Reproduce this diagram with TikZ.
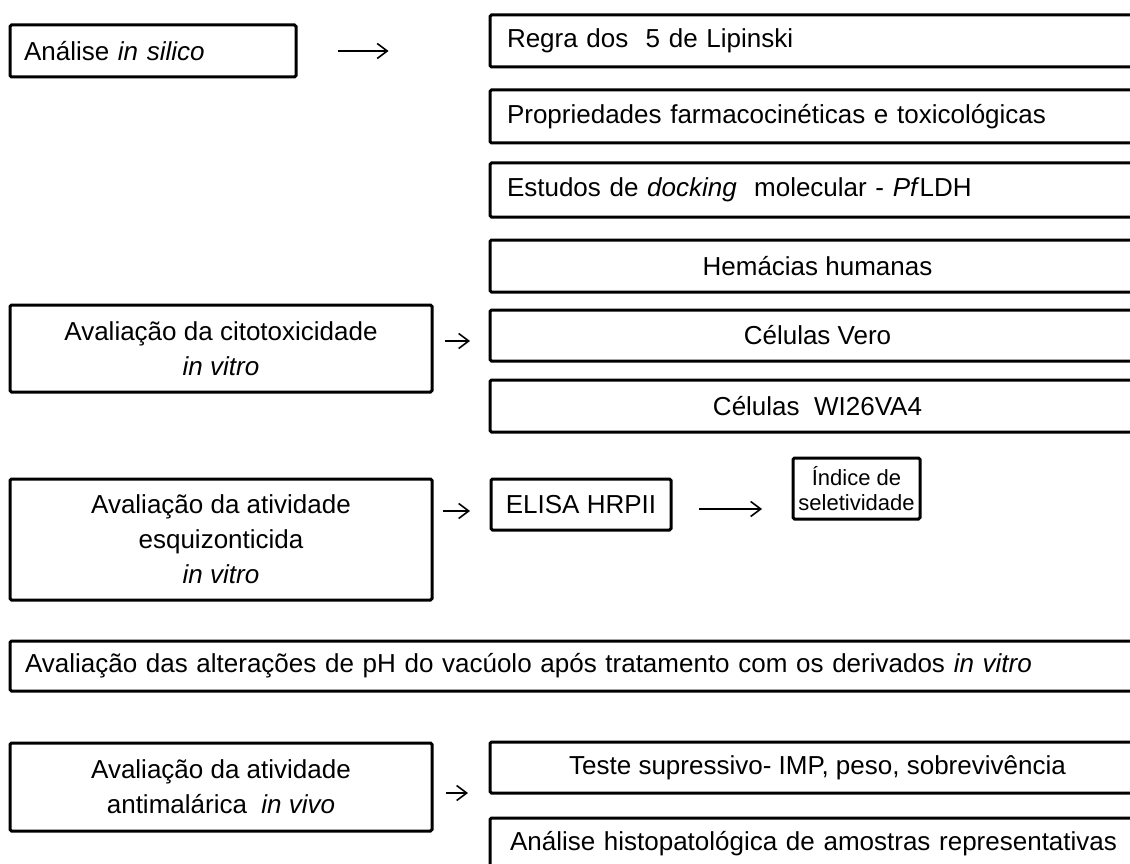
\documentclass[tikz,border=0pt]{standalone}
\usepackage{fontspec}
\setmainfont{Liberation Sans}
\usetikzlibrary{arrows.meta}
\tikzset{
  box/.style={draw=black, line width=3pt, fill=white, rounded corners=1.5pt,
    inner sep=0pt, font=\fontsize{26}{35}\selectfont},
  arr/.style={line width=1.6pt, -{Straight Barb[length=10pt,width=15pt]}},
}
\begin{document}
\begin{tikzpicture}[x=1pt,y=-1pt]
\clip (0,0) rectangle (1130,864);
\fill[white] (0,0) rectangle (1130,864);
% left column
\node[box, minimum width=286pt, minimum height=52pt, text width=258pt, align=left] (silico) at (153,51) {Análise \textit{in silico}};
\node[box, minimum width=422pt, minimum height=87pt, align=center] (cito) at (221,348.5) {Avaliação da citotoxicidade\\\textit{in vitro}};
\node[box, minimum width=422pt, minimum height=121pt, align=center] (esq) at (221,539.5) {Avaliação da atividade\\esquizonticida\\\textit{in vitro}};
\node[box, minimum width=1135pt, minimum height=50pt, text width=1105pt, align=left] (ph) at (577.5,666) {Avaliação das alterações de pH do vacúolo após tratamento com os derivados \textit{in vitro}};
\node[box, minimum width=422pt, minimum height=88pt, align=center] (anti) at (221,787) {Avaliação da atividade\\antimalárica \ \textit{in vivo}};
% right column
\node[box, minimum width=655pt, minimum height=52pt, text width=621pt, align=left] (r1) at (817.5,41) {Regra dos \ 5 de Lipinski};
\node[box, minimum width=655pt, minimum height=53pt, text width=621pt, align=left] (r2) at (817.5,116.5) {Propriedades farmacocinéticas e toxicológicas};
\node[box, minimum width=655pt, minimum height=54pt, text width=621pt, align=left] (r3) at (817.5,190) {Estudos de \textit{docking} \ molecular - \textit{Pf}LDH};
\node[box, minimum width=655pt, minimum height=52pt, align=center] (hem) at (817.5,266) {Hemácias humanas};
\node[box, minimum width=655pt, minimum height=51pt, align=center] (vero) at (817.5,335.5) {Células Vero};
\node[box, minimum width=655pt, minimum height=52pt, align=center] (wi) at (817.5,406) {Células \ WI26VA4};
\node[box, minimum width=180pt, minimum height=51pt, align=center] (elisa) at (581,504.5) {ELISA HRPII};
\node[box, minimum width=127pt, minimum height=61pt, align=center, font=\fontsize{22}{25}\selectfont] (indice) at (856.5,488.5) {Índice de\\seletividade};
\node[box, minimum width=655pt, minimum height=51pt, align=center] (teste) at (817.5,767.5) {Teste supressivo- IMP, peso, sobrevivência};
\node[box, minimum width=655pt, minimum height=52pt, text width=615pt, align=left] (histo) at (817.5,844) {Análise histopatológica de amostras representativas};
% arrows
\coordinate (y2) at (0,341);
\coordinate (y3) at (0,511);
\coordinate (y4) at (0,509);
\coordinate (y5) at (0,793);
\draw[arr, shorten <=40pt, shorten >=100pt] (silico.east) -- (silico.east -| r1.west);
\draw[arr, shorten <=11.5pt, shorten >=18.5pt] (cito.east |- y2) -- (vero.west |- y2);
\draw[arr, shorten <=9.5pt, shorten >=19.5pt] (esq.east |- y3) -- (elisa.west |- y3);
\draw[arr, shorten <=26.5pt, shorten >=29.5pt] (elisa.east |- y4) -- (indice.west |- y4);
\draw[arr, shorten <=12.5pt, shorten >=20.5pt] (anti.east |- y5) -- (teste.west |- y5);
\end{tikzpicture}
\end{document}
